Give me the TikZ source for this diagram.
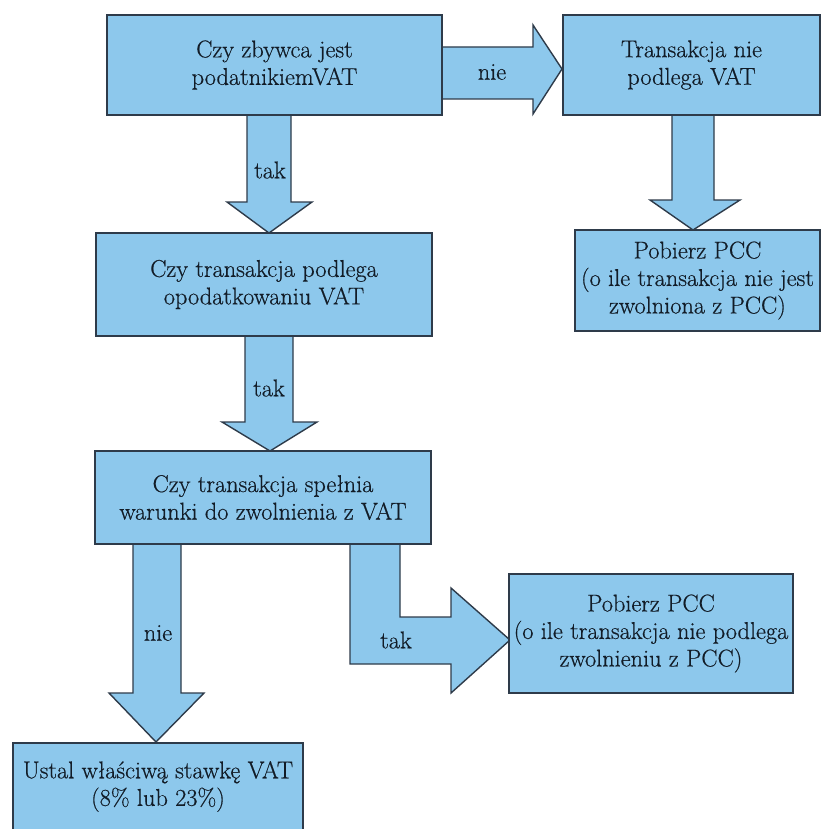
\documentclass[tikz,border=0pt]{standalone}
\usepackage{fontspec}
\setmainfont{Latin Modern Roman}[FakeBold=0.5]
\definecolor{boxfill}{HTML}{8DC8EC}
\definecolor{linec}{HTML}{2E3B4A}
\definecolor{txtc}{HTML}{121C27}
\newcommand{\fsz}{\fontsize{24.3}{27.5}\selectfont}
\begin{document}
\begin{tikzpicture}[x=1pt,y=-1pt,
  box/.style={draw=linec, fill=boxfill, line width=1.4pt, inner sep=0pt, align=center, font=\fsz, text=txtc},
  barrow/.style={draw=linec, fill=boxfill, line width=1.4pt, line join=miter},
  lbl/.style={font=\fsz, text=txtc, inner sep=0pt}]
\useasboundingbox (0,0) rectangle (821,829);
\clip (0,0) rectangle (821,829);

% block arrows
\draw[barrow] (442,47) -- (533,47) -- (533,25) -- (562,69) -- (533,114) -- (533,99) -- (442,99) -- cycle;
\draw[barrow] (247,115) -- (247,202) -- (227,202) -- (269,233) -- (312,202) -- (291,202) -- (291,115) -- cycle;
\draw[barrow] (672,115) -- (672,200) -- (650,200) -- (693,230) -- (740,200) -- (714,200) -- (714,115) -- cycle;
\draw[barrow] (245,336) -- (245,422) -- (222,422) -- (270,451) -- (317,422) -- (293,422) -- (293,336) -- cycle;
\draw[barrow] (133,544) -- (133,693) -- (109,693) -- (156,742) -- (204,693) -- (181,693) -- (181,544) -- cycle;
\draw[barrow] (350,544) -- (350,664) -- (451,664) -- (451,693) -- (510,640) -- (451,588) -- (451,617) -- (400,617) -- (400,544) -- cycle;

% boxes
\node[box, minimum width=335pt, minimum height=100pt] (b1) at (274.5,65) {Czy zbywca jest\\podatnikiemVAT};
\node[box, minimum width=257pt, minimum height=100pt] (b2) at (691.5,65) {Transakcja nie\\podlega VAT};
\node[box, minimum width=336pt, minimum height=103pt] (b3) at (264,284.5) {Czy transakcja podlega\\opodatkowaniu VAT};
\node[box, minimum width=245pt, minimum height=101pt] (b4) at (697.5,280.5) {Pobierz PCC\\(o ile transakcja nie jest\\zwolniona z PCC)};
\node[box, minimum width=336pt, minimum height=93pt] (b5) at (263,497.5) {Czy transakcja spełnia\\warunki do zwolnienia z VAT};
\node[box, minimum width=290pt, minimum height=87pt] (b6) at (158,786.5) {Ustal właściwą stawkę VAT\\(8\% lub 23\%)};
\node[box, minimum width=284pt, minimum height=119pt] (b7) at (651,633.5) {Pobierz PCC\\(o ile transakcja nie podlega\\zwolnieniu z PCC)};

% arrow labels
\node[lbl] (l1) at (492,72) {nie};
\node[lbl] (l2) at (270,170) {tak};
\node[lbl] (l3) at (269,388) {tak};
\node[lbl] (l4) at (158,633) {nie};
\node[lbl] (l5) at (396,640) {tak};
\end{tikzpicture}
\end{document}
